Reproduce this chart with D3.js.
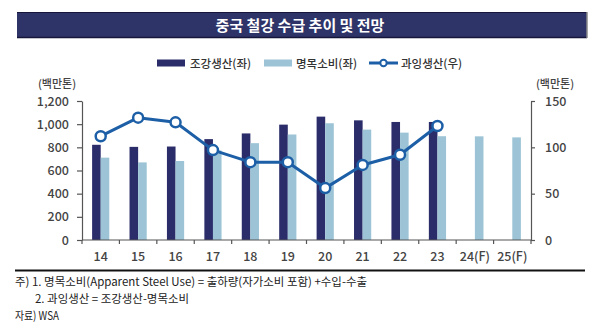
<!DOCTYPE html>
<html>
<head>
<meta charset="utf-8">
<script src="https://cdn.jsdelivr.net/npm/d3@7"></script>
<style>
  body { margin: 0; background: #fff; }
  text { font-family: "Noto Sans CJK KR", "Noto Sans", sans-serif; }
</style>
</head>
<body>
<svg width="600" height="330"></svg>
<script>
(function (d3) {
    // ==================================================
    // data (백만톤)

    const years = ["14", "15", "16", "17", "18", "19", "20", "21", "22", "23", "24(F)", "25(F)"];
    const production = [822, 804, 807, 871, 920, 996, 1065, 1033, 1019, 1019, null, null];
    const consumption = [711, 670, 682, 773, 836, 911, 1008, 953, 927, 896, 895, 886];
    const excess = [112, 132, 127, 97, 84, 84, 56, 81, 92, 123, null, null];
    const leftTicks = [0, 200, 400, 600, 800, 1000, 1200];
    const rightTicks = [0, 50, 100, 150];

    const navy = "#2b2d6b";
    const sky = "#9dc4d6";
    const blue = "#1d5fa6";
    const axisColor = "#555";
    const labelColor = "#444";

    const svg = d3.select("svg");

    // ==================================================
    // title bar

    svg.append("rect")
        .attr("x", 17).attr("y", 12).attr("width", 570).attr("height", 26)
        .attr("fill", "#2e3468");
    svg.append("line").attr("x1", 17).attr("x2", 587).attr("y1", 12.5).attr("y2", 12.5)
        .attr("stroke", "#15163a").attr("stroke-width", 1);
    svg.append("line").attr("x1", 17).attr("x2", 587).attr("y1", 37.5).attr("y2", 37.5)
        .attr("stroke", "#15163a").attr("stroke-width", 1.5);
    svg.append("line").attr("x1", 587).attr("x2", 587).attr("y1", 12).attr("y2", 38)
        .attr("stroke", "#888").attr("stroke-width", 1.5);
    svg.append("text")
        .attr("x", 300).attr("y", 30.5)
        .attr("text-anchor", "middle")
        .attr("fill", "#fff")
        .attr("font-size", 15)
        .attr("font-weight", 700)
        .text("중국 철강 수급 추이 및 전망");

    // ==================================================
    // scales

    const x = d3.scaleBand().domain(years).range([82, 531]);
    const xs = d3.scaleBand().domain(["p", "c"])
          .range([x.bandwidth() / 2 - 8.6, x.bandwidth() / 2 + 8.6]);
    const yL = d3.scaleLinear().domain([0, 1200]).range([240, 101]);
    const yR = d3.scaleLinear().domain([0, 150]).range([240, 101]);

    // ==================================================
    // bars

    const bars = svg.append("g");
    bars.selectAll("rect.p")
        .data(years.map((d, i) => ({ year: d, v: production[i] })).filter(d => d.v != null))
        .enter().append("rect")
        .attr("class", "p")
        .attr("x", d => x(d.year) + xs("p"))
        .attr("width", xs.bandwidth())
        .attr("y", d => yL(d.v))
        .attr("height", d => yL(0) - yL(d.v))
        .attr("fill", navy);
    bars.selectAll("rect.c")
        .data(years.map((d, i) => ({ year: d, v: consumption[i] })))
        .enter().append("rect")
        .attr("class", "c")
        .attr("x", d => x(d.year) + xs("c"))
        .attr("width", xs.bandwidth())
        .attr("y", d => yL(d.v))
        .attr("height", d => yL(0) - yL(d.v))
        .attr("fill", sky);

    // ==================================================
    // axes

    const gl = svg.append("g").attr("transform", "translate(82,0)")
          .call(d3.axisLeft(yL).tickValues(leftTicks).tickFormat(d3.format(","))
                .tickSize(5).tickSizeOuter(0).tickPadding(8));
    const gr = svg.append("g").attr("transform", "translate(531,0)")
          .call(d3.axisRight(yR).tickValues(rightTicks)
                .tickSize(4).tickSizeOuter(0).tickPadding(10));
    [gl, gr].forEach(g => {
        g.select(".domain").attr("stroke", axisColor).attr("stroke-width", 1.2);
        g.selectAll(".tick line").attr("stroke", axisColor).attr("stroke-width", 1.2);
        g.selectAll(".tick text")
            .attr("fill", labelColor)
            .attr("font-size", 12.5)
            .attr("font-weight", 500)
            .style("font-family", '"Noto Sans CJK KR", sans-serif');
    });

    const gb = svg.append("g");
    gb.append("line")
        .attr("x1", 82).attr("x2", 531).attr("y1", yL(0)).attr("y2", yL(0))
        .attr("stroke", axisColor).attr("stroke-width", 1.2);
    const bounds = years.map(d => x(d)).concat([x.range()[1]]);
    gb.selectAll("line.tk").data(bounds).enter().append("line")
        .attr("class", "tk")
        .attr("x1", d => d).attr("x2", d => d)
        .attr("y1", yL(0)).attr("y2", yL(0) + 4)
        .attr("stroke", axisColor).attr("stroke-width", 1.2);
    gb.selectAll("text").data(years).enter().append("text")
        .attr("x", d => x(d) + x.bandwidth() / 2)
        .attr("y", 261)
        .attr("text-anchor", "middle")
        .attr("fill", labelColor)
        .attr("font-size", 12.5)
        .attr("font-weight", 500)
        .text(d => d);

    svg.append("text").attr("x", 57).attr("y", 87.5).attr("text-anchor", "middle")
        .attr("fill", labelColor).attr("font-size", 11).attr("font-weight", 500)
        .text("(백만톤)");
    svg.append("text").attr("x", 555).attr("y", 87.5).attr("text-anchor", "middle")
        .attr("fill", labelColor).attr("font-size", 11).attr("font-weight", 500)
        .text("(백만톤)");

    // ==================================================
    // excess production line

    const pts = years.map((d, i) => ({ year: d, v: excess[i] })).filter(d => d.v != null);
    const line = d3.line()
          .x(d => x(d.year) + x.bandwidth() / 2)
          .y(d => yR(d.v));
    svg.append("path")
        .datum(pts)
        .attr("d", line)
        .attr("fill", "none")
        .attr("stroke", blue)
        .attr("stroke-width", 3)
        .attr("stroke-linejoin", "round");
    svg.selectAll("circle.m").data(pts).enter().append("circle")
        .attr("class", "m")
        .attr("cx", d => x(d.year) + x.bandwidth() / 2)
        .attr("cy", d => yR(d.v))
        .attr("r", 5)
        .attr("fill", "#fff")
        .attr("stroke", blue)
        .attr("stroke-width", 2.5);

    // ==================================================
    // legend

    const lg = svg.append("g");
    const ly = 63;
    lg.append("rect").attr("x", 157).attr("y", ly - 3.5).attr("width", 28).attr("height", 7).attr("fill", navy);
    lg.append("rect").attr("x", 264).attr("y", ly - 3.5).attr("width", 28).attr("height", 7).attr("fill", sky);
    lg.append("line").attr("x1", 369).attr("x2", 398).attr("y1", ly).attr("y2", ly)
        .attr("stroke", blue).attr("stroke-width", 3);
    lg.append("circle").attr("cx", 383.5).attr("cy", ly).attr("r", 3.2)
        .attr("fill", "#fff").attr("stroke", blue).attr("stroke-width", 2);
    [["조강생산(좌)", 190], ["명목소비(좌)", 296], ["과잉생산(우)", 401]].forEach(t => {
        lg.append("text").attr("x", t[1]).attr("y", ly + 4.5)
            .attr("fill", "#333").attr("font-size", 11.5).attr("font-weight", 500)
            .text(t[0]);
    });

    // ==================================================
    // notes

    svg.append("line").attr("x1", 15).attr("x2", 585).attr("y1", 270.5).attr("y2", 270.5)
        .attr("stroke", "#111").attr("stroke-width", 1.8);
    const notes = [
        ["주) 1.  명목소비(Apparent Steel Use) = 출하량(자가소비  포함) +수입-수출", 15, 286, 352],
        ["2.  과잉생산  =  조강생산-명목소비", 35, 303, 154],
        ["자료) WSA", 15, 320, 44]
    ];
    notes.forEach(n => {
        svg.append("text").attr("x", n[1]).attr("y", n[2])
            .attr("fill", "#222").attr("font-size", 11.5)
            .attr("textLength", n[3]).attr("lengthAdjust", "spacingAndGlyphs")
            .text(n[0]);
    });
})(d3);
</script>
</body>
</html>
